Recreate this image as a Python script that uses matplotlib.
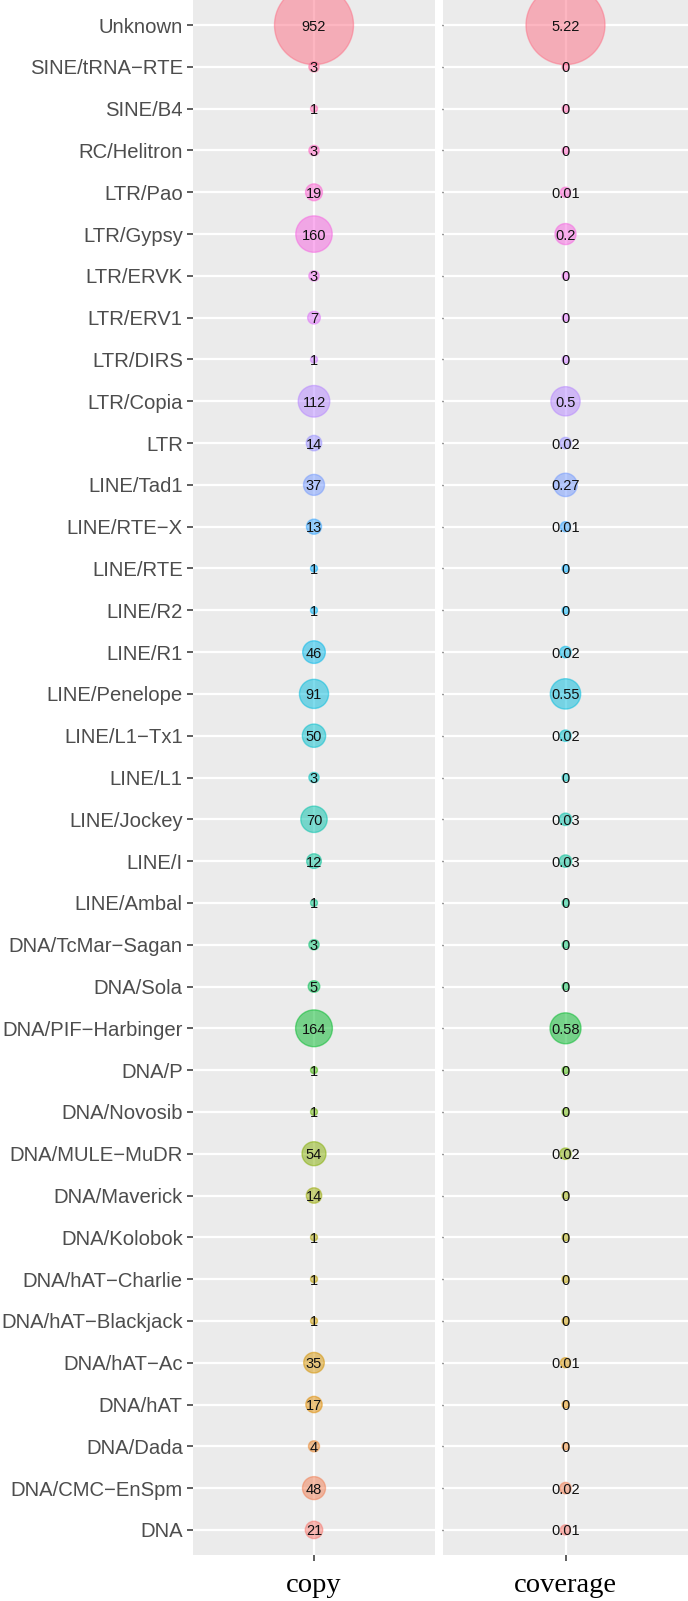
import numpy as np
import matplotlib
matplotlib.use("Agg")
import matplotlib.pyplot as plt

# ---------------- data (top -> bottom as displayed) ----------------
categories = ["Unknown", "SINE/tRNA-RTE", "SINE/B4", "RC/Helitron", "LTR/Pao",
              "LTR/Gypsy", "LTR/ERVK", "LTR/ERV1", "LTR/DIRS", "LTR/Copia", "LTR",
              "LINE/Tad1", "LINE/RTE-X", "LINE/RTE", "LINE/R2", "LINE/R1",
              "LINE/Penelope", "LINE/L1-Tx1", "LINE/L1", "LINE/Jockey", "LINE/I",
              "LINE/Ambal", "DNA/TcMar-Sagan", "DNA/Sola", "DNA/PIF-Harbinger",
              "DNA/P", "DNA/Novosib", "DNA/MULE-MuDR", "DNA/Maverick", "DNA/Kolobok",
              "DNA/hAT-Charlie", "DNA/hAT-Blackjack", "DNA/hAT-Ac", "DNA/hAT",
              "DNA/Dada", "DNA/CMC-EnSpm", "DNA"]
copy_values = [952, 3, 1, 3, 19, 160, 3, 7, 1, 112, 14, 37, 13, 1, 1, 46, 91, 50, 3,
               70, 12, 1, 3, 5, 164, 1, 1, 54, 14, 1, 1, 1, 35, 17, 4, 48, 21]
coverage_values = [5.22, 0, 0, 0, 0.01, 0.2, 0, 0, 0, 0.5, 0.02, 0.27, 0.01, 0, 0,
                   0.02, 0.55, 0.02, 0, 0.03, 0.03, 0, 0, 0, 0.58, 0, 0, 0.02, 0, 0,
                   0, 0, 0.01, 0, 0, 0.02, 0.01]
panel_names = ["copy", "coverage"]
panel_labels = [[str(v) for v in copy_values],
                [("%g" % v) for v in coverage_values]]


# ---------------- ggplot hue palette (HCL) ----------------
def hcl_to_rgb(h, c, l):
    hr = np.deg2rad(h)
    u = c * np.cos(hr)
    v = c * np.sin(hr)
    Xn, Yn, Zn = 95.047, 100.0, 108.883
    if l > 8:
        Y = Yn * ((l + 16) / 116) ** 3
    else:
        Y = Yn * l / 903.3
    den = Xn + 15 * Yn + 3 * Zn
    un, vn = 4 * Xn / den, 9 * Yn / den
    up = u / (13 * l) + un
    vp = v / (13 * l) + vn
    X = 9.0 * Y * up / (4 * vp)
    Z = -X / 3 - 5 * Y + 3 * Y / vp
    X, Y, Z = X / 100, Y / 100, Z / 100
    r = 3.240479 * X - 1.537150 * Y - 0.498535 * Z
    g = -0.969256 * X + 1.875992 * Y + 0.041556 * Z
    b = 0.055648 * X - 0.204043 * Y + 1.057311 * Z

    def gam(t):
        t = np.clip(t, 0, 1)
        return np.where(t > 0.00304, 1.055 * t ** (1 / 2.4) - 0.055, 12.92 * t)
    return tuple(float(gam(t)) for t in (r, g, b))


n = len(categories)
hues = np.linspace(15, 375, n + 1)[:n]
# factor order: DNA first (bottom) ... Unknown last (top)
colors_bottom_up = [hcl_to_rgb(h % 360, 100, 65) for h in hues]

# y positions: bottom category at 0
ypos = np.arange(n)[::-1]  # categories listed top->bottom
colors = colors_bottom_up[::-1]

# ---------------- figure ----------------
W, H = 688, 1601
fig = plt.figure(figsize=(W / 100, H / 100), dpi=100)
bg = "#EBEBEB"

panel_px = [(193, 435), (443, 688)]
top_px, bot_px = 0, 1555

label_font = "Liberation Sans"

for k, (name, vals) in enumerate(zip(panel_names, [copy_values, coverage_values])):
    x0, x1 = panel_px[k]
    ax = fig.add_axes([x0 / W, (H - bot_px) / H, (x1 - x0) / W, (bot_px - top_px) / H])
    ax.set_facecolor(bg)
    for s in ax.spines.values():
        s.set_visible(False)
    ax.set_xlim(-0.6, 0.6)
    ax.set_ylim(-0.6, n - 1 + 0.6)
    ax.set_axisbelow(True)
    ax.grid(True, color="white", linewidth=1.6)
    ax.set_xticks([0])
    ax.set_xticklabels([])
    ax.set_yticks(ypos)
    vals = np.asarray(vals, dtype=float)
    vmin, vmax = vals.min(), vals.max()
    d_px = 7 + 72 * np.sqrt((vals - vmin) / (vmax - vmin))
    sizes = (d_px * 0.72) ** 2
    face = [(c[0], c[1], c[2], 0.5) for c in colors]
    edge = [(c[0], c[1], c[2], 0.5) for c in colors]
    ax.scatter(np.zeros(n), ypos, s=sizes, c=face, edgecolors=edge,
               linewidths=1.0, zorder=3, clip_on=False)
    for y, lab in zip(ypos, panel_labels[k]):
        ax.text(0, y, lab, ha="center", va="center_baseline", fontsize=10.5,
                family=label_font, color="#111111", zorder=4)
    ax.tick_params(axis="x", length=4.3, width=1.1, color="#333333")
    if k == 0:
        ax.set_yticklabels([c.replace("-", "\u2212") for c in categories],
                           family=label_font, fontsize=14.6, color="#4D4D4D")
        ax.tick_params(axis="y", length=4.3, width=1.1, color="#333333", pad=3)
    else:
        ax.set_yticklabels([])
        ax.tick_params(axis="y", length=0.8, width=1.0, color="#333333")
    xc = (x0 + x1) / 2
    fig.text(xc / W, (H - 1592) / H, name, ha="center", va="baseline",
             family="Liberation Serif", fontsize=20.5, color="black")

fig.savefig("out.png", dpi=100, facecolor="white")
